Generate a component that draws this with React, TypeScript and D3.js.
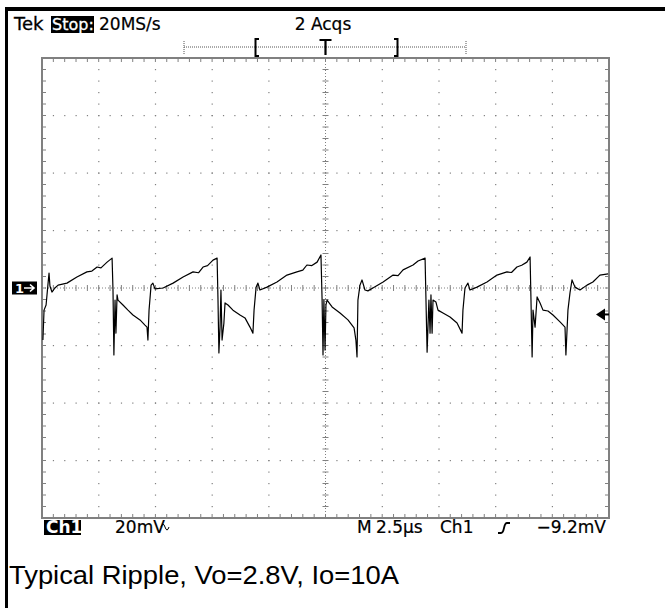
import React from "react";
import * as d3 from "d3";

// ---- data (time in µs from left edge of screen, ripple in mV) ----
const TIME_US = [
  0.04, 0.09, 0.18, 0.26, 0.31, 0.35, 0.44, 0.57, 0.71, 1.1, 1.54, 1.98, 2.2, 2.43, 2.6, 2.87, 3.09,
  3.13, 3.17, 3.22, 3.26, 3.31, 3.35, 3.57, 3.79, 4.01, 4.32, 4.54, 4.63, 4.67, 4.72, 4.81, 4.89, 4.98,
  5.34, 5.78, 6.22, 6.66, 6.9, 7.1, 7.3, 7.54, 7.72,
  7.76, 7.8, 7.85, 7.89, 7.94, 8.02, 8.07, 8.2, 8.42, 8.73, 8.95, 9.17, 9.3, 9.35, 9.44, 9.52, 9.61,
  9.92, 10.36, 10.8, 11.24, 11.5, 11.68, 11.9, 12.13, 12.3,
  12.35, 12.39, 12.43, 12.48, 12.52, 12.57, 12.79, 13.14, 13.49, 13.76, 13.84, 13.89, 13.93, 14.02, 14.11,
  14.24, 14.37, 14.59, 15.04, 15.48, 15.7, 15.92, 16.36, 16.58, 16.89,
  16.93, 16.98, 17.06, 17.11, 17.15, 17.2, 17.24, 17.37, 17.46, 17.68, 17.99, 18.3, 18.52, 18.56, 18.65,
  18.78, 18.87, 19.18, 19.62, 20.06, 20.5, 20.7, 20.94, 21.15, 21.38, 21.52,
  21.56, 21.61, 21.65, 21.74, 21.83, 21.96, 22.09, 22.31, 22.53, 22.84, 23.06, 23.1, 23.15, 23.19, 23.28,
  23.37, 23.5, 23.72, 24.03, 24.29, 24.6, 24.96,
];
const RIPPLE_MV = [
  -18.1, -7.7, -5.9, 1.0, 5.2, 0.7, -1.4, 0.0, 1.0, 1.7, 3.8, 5.6, 5.9, 7.3, 7.0, 9.0, 10.4,
  -0.7, -23.3, -4.2, -15.7, -2.4, -4.2, -5.9, -7.7, -9.4, -11.1, -12.9, -13.6, -18.1, -7.7, 1.0, 1.7, -0.3,
  0.0, 1.7, 3.8, 5.6, 5.3, 7.3, 7.8, 9.7, 10.4,
  -4.2, -22.6, -13.6, -0.7, -18.1, -12.2, -5.2, -5.9, -7.7, -9.4, -10.4, -13.6, -15.7, -7.7, 0.3, 1.7, -0.7,
  0.3, 2.1, 4.5, 5.6, 6.2, 8.0, 7.8, 9.0, 11.5,
  -4.2, -23.3, -4.2, -21.6, -5.9, -4.2, -6.6, -8.7, -11.1, -13.9, -18.1, -24.0, -4.2, 1.0, 2.8,
  -0.7, -1.0, 0.0, 2.1, 4.5, 4.3, 6.3, 8.0, 9.4, 10.4,
  -4.2, -22.3, -4.2, -15.7, -2.4, -15.7, -4.2, -4.9, -7.7, -8.7, -10.1, -12.2, -15.7, -7.7, 0.0,
  1.7, -0.7, 0.3, 2.1, 4.5, 5.6, 5.4, 7.3, 7.9, 9.0, 10.8,
  -4.2, -24.0, -7.7, -13.6, -3.1, -5.2, -7.7, -8.0, -9.4, -11.8, -13.6, -23.3, -14.6, -7.7, -1.7,
  2.8, 0.3, -0.7, 1.0, 2.1, 4.5, 4.9,
];

const HEADER = ["Tek", "Stop:", "20MS/s", "2 Acqs"];
const FOOTER = ["Ch1", "20mV", "M", "2.5µs", "Ch1", "−9.2mV"];
const CAPTION = "Typical Ripple, Vo=2.8V, Io=10A";
const TRIGGER_LEVEL_MV = -9.2;
const TIME_RANGE_US = [0, 25];
const VOLT_RANGE_MV = [-80, 80];

const W = 665;
const H = 608;
const L = 42, R = 609, T = 58, B = 518;
const GRID = "#808080";

export default function App() {
  const x = d3.scaleLinear().domain(TIME_RANGE_US).range([L, R]);
  const y = d3.scaleLinear().domain(VOLT_RANGE_MV).range([B, T]);
  const pts: [number, number][] = TIME_US.map((t, i) => [x(t), y(RIPPLE_MV[i])]);
  const line = d3.line<[number, number]>().x((d) => d[0]).y((d) => d[1]);

  const xDiv = (R - L) / 10;
  const yDiv = (B - T) / 8;
  const dots: JSX.Element[] = [];
  for (let i = 1; i < 10; i++) {
    if (i === 5) continue;
    const gx = L + i * xDiv;
    for (let k = 1; k < 40; k++) {
      const gy = T + (k * yDiv) / 5;
      dots.push(<rect key={`v${i}-${k}`} x={gx - 0.5} y={gy - 0.5} width={1.2} height={1.2} fill={GRID} />);
    }
  }
  for (let j = 1; j < 8; j++) {
    if (j === 4) continue;
    const gy = T + j * yDiv;
    for (let k = 1; k < 50; k++) {
      const gx = L + (k * xDiv) / 5;
      dots.push(<rect key={`h${j}-${k}`} x={gx - 0.5} y={gy - 0.5} width={1.2} height={1.2} fill={GRID} />);
    }
  }
  const ticks: JSX.Element[] = [];
  const cx = L + 5 * xDiv;
  const cy = T + 4 * yDiv;
  for (let k = 1; k < 50; k++) {
    const gx = L + (k * xDiv) / 5;
    ticks.push(<line key={`tt${k}`} x1={gx} x2={gx} y1={T} y2={T + 4} stroke={GRID} strokeWidth={1} />);
    ticks.push(<line key={`tb${k}`} x1={gx} x2={gx} y1={B} y2={B - 4} stroke={GRID} strokeWidth={1} />);
    ticks.push(<line key={`tc${k}`} x1={gx} x2={gx} y1={cy - 3} y2={cy + 3} stroke={GRID} strokeWidth={1} />);
  }
  for (let k = 1; k < 40; k++) {
    const gy = T + (k * yDiv) / 5;
    ticks.push(<line key={`tl${k}`} x1={L} x2={L + 4} y1={gy} y2={gy} stroke={GRID} strokeWidth={1} />);
    ticks.push(<line key={`tr${k}`} x1={R} x2={R - 4} y1={gy} y2={gy} stroke={GRID} strokeWidth={1} />);
    ticks.push(<line key={`tcv${k}`} x1={cx - 3} x2={cx + 3} y1={gy} y2={gy} stroke={GRID} strokeWidth={1} />);
  }

  const gnd = y(0);
  const trig = y(TRIGGER_LEVEL_MV);
  const font = "DejaVu Sans, sans-serif";

  return (
    <svg width={W} height={H} style={{ position: "absolute", left: 0, top: 0, background: "#fff" }}>
      <rect x={0} y={0} width={W} height={H} fill="#fff" />
      <rect x={5} y={7} width={W - 5} height={4} fill="#000" />
      <rect x={5} y={7} width={3} height={H - 7} fill="#000" />

      {/* header */}
      <text x={14} y={30} fontFamily={font} fontSize={18} fill="#000" stroke="#000" strokeWidth={0.3}>{HEADER[0]}</text>
      <rect x={51} y={16} width={43} height={17} fill="#000" />
      <text x={52} y={30} fontFamily={font} fontSize={16} fill="#fff" stroke="#fff" strokeWidth={0.3}>{HEADER[1]}</text>
      <text x={99} y={30} fontFamily={font} fontSize={17} fill="#000" stroke="#000" strokeWidth={0.2}>{HEADER[2]}</text>
      <text x={323} y={30} fontFamily={font} fontSize={17} fill="#000" textAnchor="middle" stroke="#000" strokeWidth={0.2}>{HEADER[3]}</text>

      {/* record / trigger position bar */}
      <line x1={184} x2={466} y1={47} y2={47} stroke="#555" strokeWidth={1} strokeDasharray="1,1" />
      <line x1={184} x2={184} y1={41} y2={54} stroke="#555" strokeWidth={1} strokeDasharray="1,1" />
      <line x1={466} x2={466} y1={41} y2={54} stroke="#555" strokeWidth={1} strokeDasharray="1,1" />
      <path d="M259,39 H255.5 V56 H259" fill="none" stroke="#000" strokeWidth={2} />
      <path d="M394,39 H397.5 V56 H394" fill="none" stroke="#000" strokeWidth={2} />
      <path d={`M${cx - 6},40 H${cx + 6} M${cx},40 V55`} fill="none" stroke="#000" strokeWidth={2.2} />

      {/* graticule */}
      {dots}
      <line x1={L} x2={R} y1={cy} y2={cy} stroke={GRID} strokeWidth={1} strokeDasharray="1,2" />
      <line x1={cx} x2={cx} y1={T} y2={B} stroke={GRID} strokeWidth={1} strokeDasharray="1,2" />
      {ticks}
      <rect x={L} y={T} width={R - L} height={B - T} fill="none" stroke={GRID} strokeWidth={2} />

      {/* trace */}
      <path d={line(pts) || ""} fill="none" stroke="#000" strokeWidth={1.2} strokeLinejoin="round" />

      {/* ground marker */}
      <rect x={12} y={gnd - 6.5} width={25} height={13} fill="#000" />
      <text x={15} y={gnd + 5} fontFamily={font} fontSize={13} fontWeight="bold" fill="#fff">1</text>
      <path d={`M24,${gnd} H34 M30,${gnd - 3.5} L34,${gnd} L30,${gnd + 3.5}`} fill="none" stroke="#fff" strokeWidth={1.6} />

      {/* trigger level arrow */}
      <path d={`M596,${trig} L605,${trig - 6} L605,${trig + 6} Z`} fill="#000" />
      <line x1={603} x2={609} y1={trig} y2={trig} stroke="#000" strokeWidth={2} />

      {/* footer */}
      <rect x={44} y={520} width={37} height={15} fill="#000" />
      <text x={46} y={533} fontFamily={font} fontSize={17} fontWeight="bold" fill="#fff">{FOOTER[0]}</text>
      <text x={115} y={533} fontFamily={font} fontSize={17} fill="#000" stroke="#000" strokeWidth={0.2}>{FOOTER[1]}</text>
      <path d="M161,527 q2,-6 4,0 q2,6 4,0" fill="none" stroke="#000" strokeWidth={1} />
      <text x={357} y={533} fontFamily={font} fontSize={17} fill="#000" stroke="#000" strokeWidth={0.2}>{FOOTER[2]}</text>
      <text x={376} y={533} fontFamily={font} fontSize={17} fill="#000" stroke="#000" strokeWidth={0.2}>{FOOTER[3]}</text>
      <text x={440} y={533} fontFamily={font} fontSize={17} fill="#000" stroke="#000" strokeWidth={0.2}>{FOOTER[4]}</text>
      <path d="M498,533 h3 q2,0 3,-5 q1,-5 3,-5 h3" fill="none" stroke="#000" strokeWidth={1.8} />
      <text x={606} y={533} fontFamily={font} fontSize={17} fill="#000" textAnchor="end" stroke="#000" strokeWidth={0.2}>{FOOTER[5]}</text>

      {/* caption */}
      <text x={9} y={584} fontFamily="Liberation Sans, Arial, sans-serif" fontSize={26} fill="#000"
        textLength={390} lengthAdjust="spacingAndGlyphs">{CAPTION}</text>
    </svg>
  );
}
